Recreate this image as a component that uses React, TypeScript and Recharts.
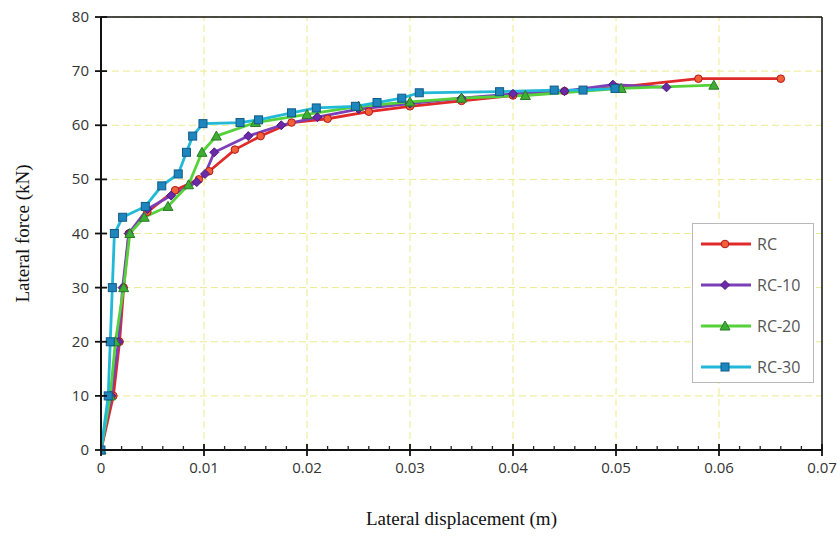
import React from 'react';
import { LineChart, Line, XAxis, YAxis, CartesianGrid, ReferenceLine } from 'recharts';

// displacement (m) / force (kN) pairs
const rcDisp = [0, 0.0012, 0.0018, 0.0022, 0.0027, 0.0045, 0.0072, 0.0095, 0.0105, 0.013, 0.0155, 0.0185, 0.022, 0.026, 0.03, 0.035, 0.04, 0.045, 0.05, 0.058, 0.066];
const rcForce = [0, 10, 20, 30, 40, 44, 48, 50, 51.5, 55.5, 58, 60.5, 61.2, 62.5, 63.5, 64.5, 65.5, 66.3, 67, 68.6, 68.6];

const rc10Disp = [0, 0.001, 0.0017, 0.0021, 0.0027, 0.0045, 0.0068, 0.0093, 0.0101, 0.011, 0.0143, 0.0175, 0.021, 0.025, 0.03, 0.035, 0.04, 0.045, 0.0497, 0.0549];
const rc10Force = [0, 10, 20, 30, 40, 44.5, 47, 49.5, 51, 55, 58, 60, 61.5, 63, 64, 65, 65.8, 66.3, 67.5, 67];

const rc20Disp = [0, 0.0009, 0.0014, 0.0022, 0.0028, 0.0042, 0.0065, 0.0085, 0.0098, 0.0112, 0.015, 0.02, 0.025, 0.03, 0.035, 0.0412, 0.0505, 0.0595];
const rc20Force = [0, 10, 20, 30, 40, 43, 45, 49, 55, 58, 60.5, 62, 63.5, 64.3, 65, 65.5, 66.8, 67.4];

const rc30Disp = [0, 0.0007, 0.0009, 0.0011, 0.0013, 0.0021, 0.0043, 0.0059, 0.0075, 0.0083, 0.0089, 0.0099, 0.0135, 0.0153, 0.0185, 0.0209, 0.0247, 0.0268, 0.0292, 0.0309, 0.0387, 0.044, 0.0468, 0.0499];
const rc30Force = [0, 10, 20, 30, 40, 43, 45, 48.8, 51, 55, 58, 60.3, 60.5, 61, 62.3, 63.2, 63.5, 64.2, 65, 66, 66.2, 66.5, 66.5, 66.8];

const xMajorTicks = [0, 0.01, 0.02, 0.03, 0.04, 0.05, 0.06, 0.07];
const xAllTicks = Array.from({ length: 36 }, (_, i) => Math.round(i * 2) / 1000);
const yTicks = [0, 10, 20, 30, 40, 50, 60, 70, 80];

const zip = (xs: number[], ys: number[]) => xs.map((x, i) => ({ x, y: ys[i] }));

const series = [
  { name: 'RC', data: zip(rcDisp, rcForce), color: '#e02a2a', mark: '#f2603a', edge: '#b01818', shape: 'circle' },
  { name: 'RC-10', data: zip(rc10Disp, rc10Force), color: '#7b3fb8', mark: '#6b2aa8', edge: '#4a1a80', shape: 'diamond' },
  { name: 'RC-20', data: zip(rc20Disp, rc20Force), color: '#55d23a', mark: '#3fae35', edge: '#2a7a25', shape: 'triangle' },
  { name: 'RC-30', data: zip(rc30Disp, rc30Force), color: '#22b8d8', mark: '#1d86bd', edge: '#135a88', shape: 'square' },
];

const Marker = ({ cx, cy, shape, fill, stroke }: any) => {
  if (cx == null || cy == null) return null;
  if (shape === 'circle') return <circle cx={cx} cy={cy} r={3.8} fill={fill} stroke={stroke} strokeWidth={1} />;
  if (shape === 'diamond')
    return <path d={`M${cx},${cy - 4.5}L${cx + 4.5},${cy}L${cx},${cy + 4.5}L${cx - 4.5},${cy}Z`} fill={fill} stroke={stroke} strokeWidth={1} />;
  if (shape === 'triangle')
    return <path d={`M${cx},${cy - 5}L${cx + 5},${cy + 4}L${cx - 5},${cy + 4}Z`} fill={fill} stroke={stroke} strokeWidth={1} />;
  return <rect x={cx - 4} y={cy - 4} width={8} height={8} fill={fill} stroke={stroke} strokeWidth={1} />;
};

const XTick = ({ x, y, payload }: any) => {
  const v = payload.value;
  const major = Math.abs(v * 100 - Math.round(v * 100)) < 1e-6;
  if (!major) return <line x1={x} x2={x} y1={y - 4} y2={y + 1} stroke="#222" strokeWidth={1.3} />;
  return (
    <g>
      <line x1={x} x2={x} y1={y - 6} y2={y + 6} stroke="#111" strokeWidth={1.8} />
      <text x={x} y={y + 23} textAnchor="middle" fontSize={15} fill="#333" fontFamily="Open Sans">
        {String(Math.round(v * 100) / 100)}
      </text>
    </g>
  );
};

const YTick = ({ x, y, payload }: any) => (
  <g>
    <line x1={x - 6} x2={x + 6} y1={y} y2={y} stroke="#111" strokeWidth={1.8} />
    <text x={x - 12} y={y + 5} textAnchor="end" fontSize={15} fill="#333" fontFamily="Open Sans">
      {payload.value}
    </text>
  </g>
);

const LegendBox = () => (
  <div
    style={{
      position: 'absolute',
      left: 692,
      top: 223,
      width: 122,
      height: 160,
      border: '1px solid #b8b8b8',
      background: '#fff',
      boxSizing: 'border-box',
    }}
  >
    {series.map((s, i) => (
      <div key={s.name} style={{ position: 'absolute', left: 6, top: 8 + i * 41, height: 24, display: 'flex', alignItems: 'center' }}>
        <svg width={54} height={24}>
          <line x1={2} x2={52} y1={12} y2={12} stroke={s.color} strokeWidth={2.8} />
          <Marker cx={26} cy={12} shape={s.shape} fill={s.mark} stroke={s.edge} />
        </svg>
        <span style={{ fontFamily: 'Open Sans', fontSize: 16, color: '#555', marginLeft: 4 }}>{s.name}</span>
      </div>
    ))}
  </div>
);

export default function App() {
  return (
    <div style={{ position: 'absolute', left: 0, top: 0, width: 840, height: 536, background: '#fff' }}>
      <LineChart width={840} height={536} margin={{ top: 17, right: 18, left: 0, bottom: 46 }}>
        <CartesianGrid vertical={false} stroke="#ecea8c" strokeDasharray="7 4" />
        {xMajorTicks.slice(1, -1).map((t) => (
          <ReferenceLine key={t} x={t} stroke="#ecea8c" strokeDasharray="7 4" />
        ))}
        <ReferenceLine y={80} stroke="#111" strokeWidth={1.5} />
        <ReferenceLine x={0.07} stroke="#111" strokeWidth={1.5} />
        <XAxis
          type="number"
          dataKey="x"
          domain={[0, 0.07]}
          ticks={xAllTicks}
          interval={0}
          height={40}
          tickSize={0}
          tickMargin={0}
          tickLine={false}
          axisLine={{ stroke: '#111', strokeWidth: 2 }}
          tick={<XTick />}
          allowDataOverflow
          label={{
            value: 'Lateral displacement (m)',
            position: 'bottom',
            offset: 22,
            style: { fontFamily: 'Liberation Serif', fontSize: 19, fill: '#111' },
          }}
        />
        <YAxis
          type="number"
          dataKey="y"
          domain={[0, 80]}
          ticks={yTicks}
          interval={0}
          width={101}
          tickSize={0}
          tickMargin={0}
          tickLine={false}
          axisLine={{ stroke: '#111', strokeWidth: 2 }}
          tick={<YTick />}
          label={{
            value: 'Lateral force (kN)',
            angle: -90,
            position: 'insideLeft',
            offset: 22,
            style: { textAnchor: 'middle', fontFamily: 'Liberation Serif', fontSize: 19, fill: '#111' },
          }}
        />
        {series.map((s) => (
          <Line
            key={s.name}
            data={s.data}
            dataKey="y"
            name={s.name}
            type="linear"
            stroke={s.color}
            strokeWidth={2.8}
            isAnimationActive={false}
            dot={(p: any) => <Marker key={`${s.name}-${p.index}`} cx={p.cx} cy={p.cy} shape={s.shape} fill={s.mark} stroke={s.edge} />}
            activeDot={false}
          />
        ))}
      </LineChart>
      <LegendBox />
    </div>
  );
}
